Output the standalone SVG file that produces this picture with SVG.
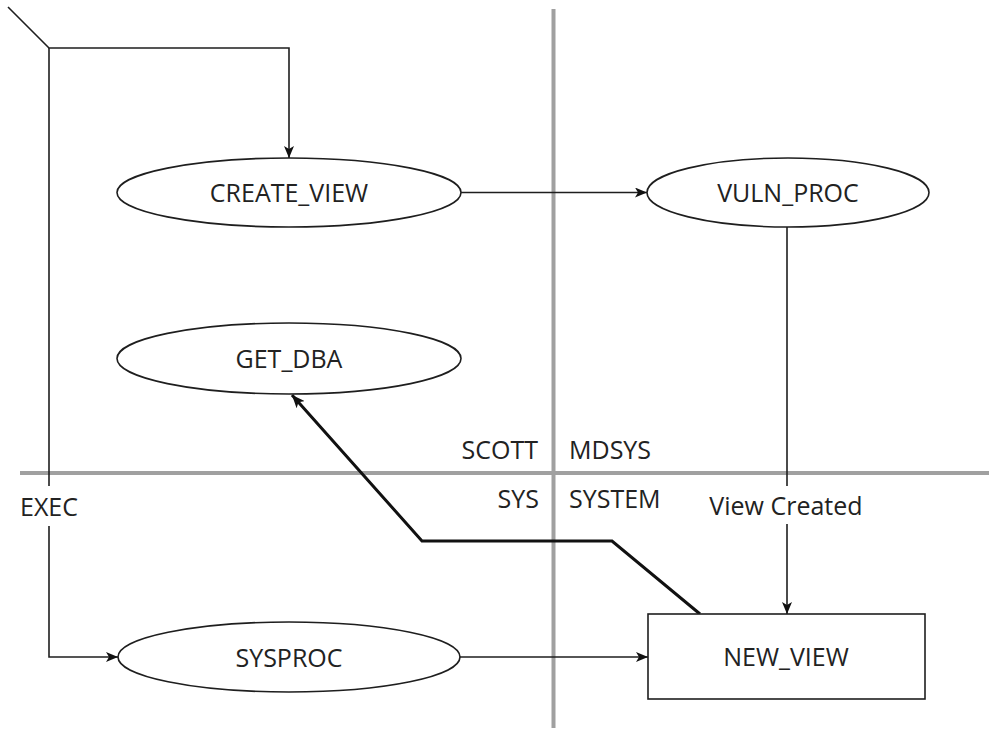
<svg xmlns="http://www.w3.org/2000/svg" width="997" height="733" viewBox="0 0 997 733">
<style>
  .bg { fill: #ffffff; }
  .node { fill: #ffffff; stroke: #1e1e1e; stroke-width: 1.6; }
  .lbl { font-family: "Open Sans", "DejaVu Sans", sans-serif; font-size: 25px; fill: #222222; }
  .ctr { text-anchor: middle; }
  .end { text-anchor: end; }
  .divider { stroke: #a0a0a0; stroke-width: 4; fill: none; }
  .conn { stroke: #1e1e1e; stroke-width: 1.6; fill: none; }
  .thick { stroke: #111111; stroke-width: 3; fill: none; }
</style>
<defs>
  <marker id="arr" viewBox="0 0 12 10" refX="12" refY="5" markerWidth="12" markerHeight="10" markerUnits="userSpaceOnUse" orient="auto">
    <path d="M0,0 L12,5 L0,10 L3,5 Z" fill="#111111"/>
  </marker>
  <marker id="arr2" viewBox="0 0 12 10" refX="12" refY="5" markerWidth="13" markerHeight="11" markerUnits="userSpaceOnUse" orient="auto">
    <path d="M0,0 L12,5 L0,10 L3,5 Z" fill="#111111"/>
  </marker>
</defs>
<rect class="bg" x="0" y="0" width="997" height="733"/>

<g id="dividers">
  <line class="divider" x1="553.5" y1="9" x2="553.5" y2="728"/>
  <line class="divider" x1="20" y1="473" x2="989" y2="473"/>
</g>

<g id="zone-labels">
  <text class="lbl end" x="538" y="459">SCOTT</text>
  <text class="lbl" x="569" y="459">MDSYS</text>
  <text class="lbl end" x="539" y="508">SYS</text>
  <text class="lbl" x="569" y="508">SYSTEM</text>
</g>

<g id="connectors">
  <polyline class="conn" points="8,7 49,48 289,48 289,158" marker-end="url(#arr)"/>
  <line class="conn" x1="49" y1="48" x2="49" y2="486"/>
  <text class="lbl" x="20" y="516">EXEC</text>
  <polyline class="conn" points="49,526 49,657 118,657" marker-end="url(#arr)"/>
  <line class="conn" x1="461" y1="192.5" x2="647" y2="192.5" marker-end="url(#arr)"/>
  <line class="conn" x1="787" y1="227" x2="787" y2="486"/>
  <text class="lbl ctr" x="786" y="515">View Created</text>
  <line class="conn" x1="787" y1="524" x2="787" y2="614" marker-end="url(#arr)"/>
  <line class="conn" x1="460" y1="657" x2="648" y2="657" marker-end="url(#arr)"/>
  <polyline class="thick" points="700,614 612,541 422,541 292,395" marker-end="url(#arr2)"/>
</g>

<g id="create_view">
  <ellipse class="node" cx="289" cy="192.5" rx="172" ry="34.5"/>
  <text class="lbl ctr" x="289" y="202">CREATE_VIEW</text>
</g>

<g id="vuln_proc">
  <ellipse class="node" cx="788" cy="192.5" rx="141" ry="34.5"/>
  <text class="lbl ctr" x="788" y="202">VULN_PROC</text>
</g>

<g id="get_dba">
  <ellipse class="node" cx="289" cy="358.5" rx="172" ry="35.5"/>
  <text class="lbl ctr" x="289" y="368">GET_DBA</text>
</g>

<g id="sysproc">
  <ellipse class="node" cx="289" cy="657" rx="171" ry="35"/>
  <text class="lbl ctr" x="289" y="667">SYSPROC</text>
</g>

<g id="new_view">
  <rect class="node" x="648" y="614" width="277" height="85"/>
  <text class="lbl ctr" x="786" y="666">NEW_VIEW</text>
</g>
</svg>
